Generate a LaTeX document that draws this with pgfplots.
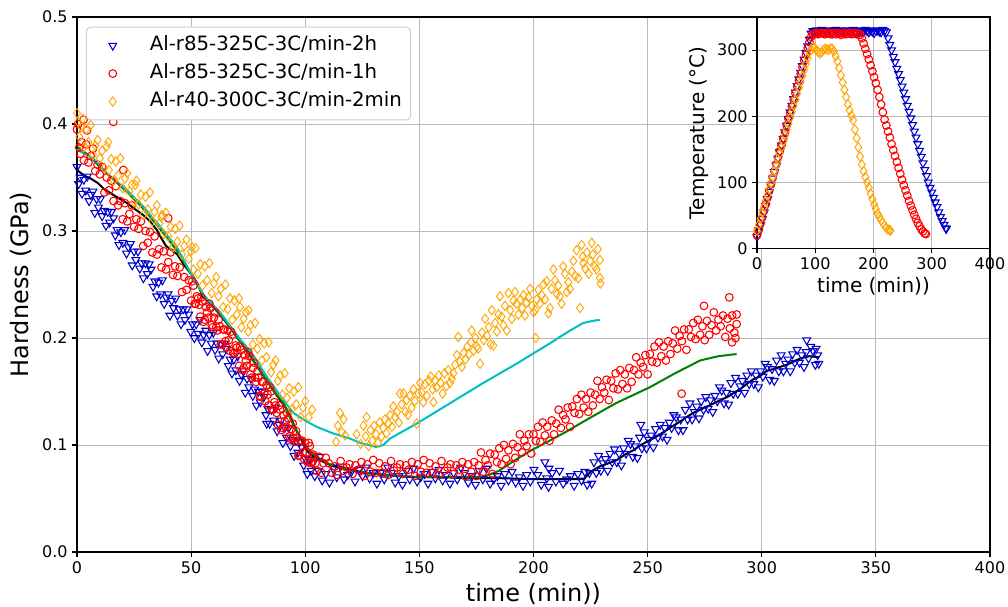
\documentclass[border=0pt]{standalone}
\usepackage{pgfplots}
\pgfplotsset{compat=1.18}
\usepackage{fontspec}
\setmainfont{DejaVu Sans}
\definecolor{mblue}{RGB}{0,0,205}
\definecolor{morange}{RGB}{255,165,0}
\definecolor{mcyan}{RGB}{0,191,191}
\definecolor{mgreen}{RGB}{0,128,0}
\pgfplotsset{
  mpl/.style={
    scale only axis,
    axis line style={line width=0.8pt},
    grid=major,
    major grid style={draw=gray!55, line width=0.7pt},
    tick align=outside,
    tick pos=left,
    major tick length=3.5pt,
    tick style={line width=0.8pt, black},
    tick label style={font=\fontsize{12}{14}\selectfont},
    /pgf/number format/assume math mode=true,
  },
  bluem/.style={only marks, mark=triangle, mark size=3.4pt, mblue, mark options={rotate=180, line width=0.8pt, mblue}},
  redm/.style={only marks, mark=o, mark size=2.9pt, red, mark options={line width=0.8pt, red}},
  orangem/.style={only marks, mark=diamond, mark size=3.5pt, morange, mark options={line width=0.7pt, morange}},
}
\begin{document}
\begin{tikzpicture}
\useasboundingbox (-57.75pt,-41.25pt) rectangle (698.25pt,414pt);
\begin{axis}[mpl,
  at={(0pt,0pt)}, anchor=south west,
  width=684.75pt, height=401.25pt,
  xmin=0, xmax=400, ymin=0, ymax=0.5,
  xtick={0,50,100,150,200,250,300,350,400},
  ytick={0,0.1,0.2,0.3,0.4,0.5},
  yticklabel style={/pgf/number format/.cd, fixed, fixed zerofill, precision=1},
  xlabel={time (min))}, ylabel={Hardness (GPa)},
  xlabel style={font=\fontsize{18}{21}\selectfont, at={(axis description cs:0.5,-0.0785)}, anchor=center},
  ylabel style={font=\fontsize{18}{21}\selectfont, at={(axis description cs:-0.0613,0.5)}, anchor=center},
  legend style={at={(axis description cs:0,1)}, anchor=north west, xshift=6.75pt, yshift=-7.3pt,
    draw=gray!40, line width=0.75pt, rounded corners=3pt, fill=white,
    inner xsep=5.5pt, inner ysep=5.75pt, row sep=5pt, column sep=0pt,
    font=\fontsize{14.8}{17}\selectfont,
    nodes={inner sep=1pt, text height=11pt, text depth=3pt},
    cells={anchor=west}},
  legend image code/.code={\path[draw=none,fill=none] (0pt,-3pt) rectangle (41pt,3pt); \draw[sharp corners,#1] plot coordinates {(14.2pt,0pt)};},
]
% blue: Al-r85-325C-3C/min-2h
\addplot[bluem] table[row sep=\\] {t h\\
0 0.360\\ 0.7 0.344\\ 1.4 0.350\\ 2.2 0.335\\ 3.0 0.348\\ 3.8 0.338\\ 4.5 0.351\\ 5.3 0.328\\ 6.1 0.334\\ 7.0 0.337\\
7.8 0.317\\ 8.6 0.330\\ 9.4 0.322\\ 10.2 0.330\\ 11.0 0.314\\ 11.9 0.319\\ 12.7 0.305\\ 13.5 0.318\\ 14.3 0.308\\ 15.1 0.318\\
16.0 0.312\\ 16.8 0.296\\ 17.6 0.301\\ 18.4 0.287\\ 19.2 0.299\\ 20.1 0.289\\ 20.9 0.301\\ 21.7 0.279\\ 22.5 0.285\\ 23.4 0.288\\
24.2 0.268\\ 25.0 0.281\\ 25.8 0.273\\ 26.7 0.281\\ 27.5 0.265\\ 28.3 0.270\\ 29.1 0.256\\ 30.0 0.270\\ 30.8 0.260\\ 31.6 0.269\\
32.4 0.264\\ 33.3 0.248\\ 34.1 0.253\\ 34.9 0.239\\ 35.7 0.252\\ 36.6 0.241\\ 37.4 0.254\\ 38.2 0.232\\ 39.0 0.238\\ 39.9 0.241\\
40.7 0.221\\ 41.5 0.235\\ 42.3 0.228\\ 43.2 0.237\\ 44.0 0.221\\ 44.8 0.227\\ 45.6 0.213\\ 46.5 0.227\\ 47.3 0.217\\ 48.1 0.227\\
48.9 0.222\\ 49.8 0.206\\ 50.6 0.213\\ 51.4 0.200\\ 52.2 0.213\\ 53.1 0.204\\ 53.9 0.217\\ 54.7 0.196\\ 55.5 0.203\\ 56.4 0.207\\
57.2 0.188\\ 58.0 0.203\\ 58.8 0.195\\ 59.7 0.205\\ 60.5 0.189\\ 61.3 0.195\\ 62.1 0.181\\ 63.0 0.195\\ 63.8 0.185\\ 64.6 0.195\\
65.4 0.190\\ 66.3 0.174\\ 67.1 0.180\\ 67.9 0.167\\ 68.7 0.180\\ 69.6 0.170\\ 70.4 0.183\\ 71.2 0.160\\ 72.0 0.166\\ 72.9 0.169\\
73.7 0.149\\ 74.5 0.162\\ 75.3 0.154\\ 76.2 0.162\\ 77.0 0.146\\ 77.8 0.152\\ 78.6 0.137\\ 79.5 0.150\\ 80.3 0.140\\ 81.1 0.150\\
81.9 0.145\\ 82.8 0.128\\ 83.6 0.134\\ 84.4 0.120\\ 85.2 0.133\\ 86.1 0.123\\ 86.9 0.135\\ 87.7 0.113\\ 88.5 0.119\\ 89.4 0.123\\
90.2 0.102\\ 91.0 0.116\\ 91.8 0.107\\ 92.7 0.116\\ 93.5 0.099\\ 94.3 0.105\\ 95.1 0.090\\ 96.0 0.104\\ 96.8 0.093\\ 97.6 0.103\\
98.4 0.098\\ 99.3 0.081\\ 100.1 0.087\\ 100.9 0.073\\ 101.7 0.086\\ 102.6 0.076\\ 103.4 0.083\\ 104.2 0.071\\ 83.1 0.120\\
105.8 0.076\\ 106.5 0.089\\ 107.4 0.067\\ 109.0 0.073\\ 110.6 0.065\\ 112.2 0.078\\ 113.8 0.070\\ 115.4 0.080\\ 117.0 0.068\\ 118.6 0.072\\
120.2 0.075\\ 121.8 0.066\\ 123.4 0.077\\ 125.0 0.071\\ 126.6 0.079\\ 128.2 0.069\\ 129.8 0.074\\ 131.4 0.064\\ 133.0 0.074\\ 134.6 0.068\\
136.2 0.079\\ 137.8 0.074\\ 139.4 0.065\\ 141.0 0.071\\ 142.6 0.063\\ 144.2 0.076\\ 145.8 0.068\\ 147.4 0.078\\ 149.0 0.066\\ 150.6 0.070\\
152.2 0.073\\ 153.8 0.064\\ 155.4 0.075\\ 157.0 0.069\\ 158.6 0.077\\ 160.2 0.067\\ 161.8 0.072\\ 163.4 0.064\\ 165.0 0.074\\ 166.6 0.068\\
168.2 0.079\\ 169.8 0.074\\ 171.4 0.065\\ 173.0 0.071\\ 174.6 0.063\\ 176.2 0.076\\ 177.8 0.068\\ 179.4 0.078\\ 181.0 0.064\\ 182.6 0.068\\
184.2 0.071\\ 185.8 0.062\\ 187.4 0.073\\ 189.0 0.067\\ 190.6 0.075\\ 192.2 0.065\\ 193.8 0.070\\ 195.4 0.062\\ 197.0 0.072\\ 198.6 0.066\\
200.2 0.077\\ 201.8 0.072\\ 203.4 0.063\\ 205.0 0.084\\ 205.8 0.069\\ 206.8 0.078\\ 206.6 0.061\\ 208.2 0.074\\ 209.8 0.066\\ 211.4 0.076\\
213.0 0.064\\ 214.6 0.068\\ 216.2 0.071\\ 217.8 0.062\\ 219.4 0.073\\ 221.0 0.067\\
222.5 0.075\\ 223.5 0.063\\ 224.5 0.074\\ 225.5 0.064\\ 226.5 0.084\\ 227.5 0.074\\ 228.5 0.090\\ 229.5 0.076\\ 230.5 0.083\\ 231.5 0.087\\
232.5 0.076\\ 233.5 0.092\\ 234.5 0.084\\ 235.5 0.096\\ 236.5 0.084\\ 237.5 0.092\\ 238.5 0.081\\ 239.5 0.097\\ 240.5 0.092\\ 241.5 0.104\\
242.5 0.101\\ 243.5 0.089\\ 244.5 0.099\\ 245.5 0.088\\ 246.5 0.107\\ 247.5 0.097\\ 248.5 0.112\\ 249.5 0.097\\ 250.5 0.105\\ 251.5 0.109\\
252.5 0.098\\ 253.5 0.115\\ 254.5 0.107\\ 255.5 0.119\\ 256.5 0.108\\ 257.5 0.116\\ 258.5 0.105\\ 259.5 0.121\\ 260.5 0.116\\ 261.5 0.128\\
262.5 0.126\\ 263.5 0.114\\ 264.5 0.124\\ 265.5 0.114\\ 266.5 0.133\\ 267.5 0.124\\ 268.5 0.139\\ 269.5 0.124\\ 270.5 0.131\\ 271.5 0.136\\
272.5 0.125\\ 273.5 0.141\\ 274.5 0.133\\ 275.5 0.145\\ 276.5 0.134\\ 277.5 0.142\\ 278.5 0.131\\ 279.5 0.146\\ 280.5 0.141\\ 281.5 0.154\\
282.5 0.151\\ 283.5 0.139\\ 284.5 0.149\\ 285.5 0.138\\ 286.5 0.158\\ 287.5 0.148\\ 288.5 0.163\\ 289.5 0.148\\ 290.5 0.155\\ 291.5 0.160\\
292.5 0.149\\ 293.5 0.165\\ 294.5 0.157\\ 295.5 0.169\\ 296.5 0.157\\ 297.5 0.165\\ 298.5 0.154\\ 299.5 0.169\\ 300.5 0.164\\ 301.5 0.176\\
302.5 0.173\\ 303.5 0.161\\ 304.5 0.171\\ 305.5 0.160\\ 306.5 0.179\\ 307.5 0.169\\ 308.5 0.184\\ 309.5 0.169\\ 310.5 0.176\\ 311.5 0.180\\
312.5 0.169\\ 313.5 0.185\\ 314.5 0.177\\ 315.5 0.189\\ 316.5 0.177\\ 317.5 0.184\\ 318.5 0.173\\ 319.5 0.187\\ 320.5 0.181\\ 321.5 0.192\\
322.5 0.188\\ 323.5 0.175\\ 324.5 0.184\\ 247.0 0.119\\ 319.7 0.198\\ 325.0 0.176\\ 323.8 0.190\\
};
\addlegendentry{Al-r85-325C-3C/min-2h}
% red: Al-r85-325C-3C/min-1h
\addplot[redm] table[row sep=\\] {t h\\
0 0.395\\ 1 0.378\\ 2 0.383\\ 3 0.366\\ 4 0.381\\ 5 0.364\\ 6 0.370\\ 7 0.377\\ 8 0.356\\ 9 0.362\\
10 0.353\\ 11 0.360\\ 12 0.336\\ 13 0.350\\ 14 0.338\\ 15 0.347\\ 16 0.328\\ 17 0.342\\ 18 0.324\\ 19 0.328\\
20 0.311\\ 21 0.326\\ 22 0.309\\ 23 0.316\\ 24 0.324\\ 25 0.304\\ 26 0.311\\ 27 0.302\\ 28 0.309\\ 29 0.286\\
30 0.300\\ 31 0.289\\ 32 0.299\\ 33 0.280\\ 34 0.295\\ 35 0.278\\ 36 0.283\\ 37 0.266\\ 38 0.281\\ 39 0.264\\
40 0.271\\ 41 0.280\\ 42 0.259\\ 43 0.267\\ 44 0.258\\ 45 0.266\\ 46 0.243\\ 47 0.257\\ 48 0.245\\ 49 0.254\\
50 0.235\\ 51 0.249\\ 52 0.232\\ 53 0.237\\ 54 0.220\\ 55 0.234\\ 56 0.217\\ 57 0.224\\ 58 0.232\\ 59 0.212\\
60 0.219\\ 61 0.210\\ 62 0.217\\ 63 0.194\\ 64 0.208\\ 65 0.197\\ 66 0.207\\ 67 0.188\\ 68 0.203\\ 69 0.186\\
70 0.191\\ 71 0.174\\ 72 0.189\\ 73 0.172\\ 74 0.179\\ 75 0.187\\ 76 0.166\\ 77 0.172\\ 78 0.163\\ 79 0.169\\
80 0.146\\ 81 0.159\\ 82 0.148\\ 83 0.156\\ 84 0.137\\ 85 0.150\\ 86 0.133\\ 87 0.137\\ 88 0.119\\ 89 0.133\\
90 0.116\\ 91 0.122\\ 92 0.130\\ 93 0.108\\ 94 0.115\\ 95 0.106\\ 96 0.113\\ 97 0.090\\ 98 0.104\\ 99 0.093\\
100 0.102\\ 101 0.084\\ 102 0.099\\ 103 0.084\\ 104 0.089\\ 105 0.076\\ 106 0.089\\ 107 0.074\\ 108 0.083\\ 109 0.088\\
50.5 0.253\\ 51.5 0.232\\ 52.5 0.239\\ 53.5 0.231\\ 54.5 0.238\\ 55.5 0.215\\ 56.5 0.229\\ 57.5 0.219\\ 58.5 0.228\\ 59.5 0.210\\
60.5 0.224\\ 61.5 0.207\\ 62.5 0.211\\ 63.5 0.194\\ 64.5 0.208\\ 65.5 0.191\\ 66.5 0.198\\ 67.5 0.206\\ 68.5 0.186\\ 69.5 0.193\\
70.5 0.185\\ 71.5 0.192\\ 72.5 0.170\\ 73.5 0.184\\ 74.5 0.174\\ 75.5 0.183\\ 76.5 0.163\\ 77.5 0.177\\ 78.5 0.159\\ 79.5 0.163\\
80.5 0.145\\ 81.5 0.159\\ 82.5 0.141\\ 83.5 0.147\\ 84.5 0.154\\ 85.5 0.133\\ 86.5 0.140\\ 87.5 0.130\\ 88.5 0.137\\ 89.5 0.114\\
90.5 0.128\\ 91.5 0.117\\ 92.5 0.125\\ 93.5 0.106\\ 94.5 0.120\\ 95.5 0.103\\ 96.5 0.107\\ 97.5 0.090\\ 98.5 0.104\\ 99.5 0.087\\
100.5 0.093\\ 101.5 0.102\\ 102.5 0.083\\ 103.5 0.091\\ 104.5 0.083\\
0.5 0.400\\ 1.5 0.372\\ 2.9 0.404\\ 4.4 0.394\\ 15.9 0.402\\ 20.3 0.357\\ 40.0 0.312\\
110.3 0.083\\ 111.6 0.074\\ 112.9 0.080\\ 114.2 0.072\\ 115.5 0.085\\ 116.8 0.076\\ 118.1 0.079\\ 119.4 0.082\\ 120.7 0.073\\ 122.0 0.081\\
123.3 0.077\\ 124.6 0.084\\ 125.9 0.071\\ 127.2 0.082\\ 128.5 0.075\\ 129.8 0.086\\ 131.1 0.074\\ 132.4 0.083\\ 133.7 0.074\\ 135.0 0.080\\
136.3 0.072\\ 137.6 0.085\\ 138.9 0.076\\ 140.2 0.079\\ 141.5 0.082\\ 142.8 0.073\\ 144.1 0.081\\ 145.4 0.077\\ 146.7 0.084\\ 148.0 0.071\\
149.3 0.082\\ 150.6 0.075\\ 151.9 0.086\\ 153.2 0.074\\ 154.5 0.083\\ 155.8 0.074\\ 157.1 0.080\\ 158.4 0.072\\ 159.7 0.085\\ 161.0 0.076\\
162.3 0.079\\ 163.6 0.082\\ 164.9 0.073\\ 166.2 0.081\\ 167.5 0.077\\ 168.8 0.084\\ 170.1 0.071\\ 171.4 0.082\\ 172.7 0.075\\
174 0.084\\ 175 0.071\\ 176 0.081\\ 177 0.093\\ 178 0.075\\ 179 0.086\\ 180 0.081\\ 181 0.092\\ 182 0.073\\ 183 0.091\\
184 0.084\\ 185 0.097\\ 186 0.082\\ 187 0.100\\ 188 0.087\\ 189 0.095\\ 190 0.082\\ 191 0.101\\ 192 0.088\\ 193 0.098\\
194 0.110\\ 195 0.093\\ 196 0.104\\ 197 0.099\\ 198 0.110\\ 199 0.092\\ 200 0.110\\ 201 0.104\\ 202 0.117\\ 203 0.103\\
204 0.121\\ 205 0.109\\ 206 0.117\\ 207 0.104\\ 208 0.123\\ 209 0.110\\ 210 0.120\\ 211 0.133\\ 212 0.116\\ 213 0.128\\
214 0.124\\ 215 0.135\\ 216 0.117\\ 217 0.136\\ 218 0.130\\ 219 0.143\\ 220 0.129\\ 221 0.147\\ 222 0.135\\ 223 0.143\\
224 0.131\\ 225 0.149\\ 226 0.137\\ 227 0.147\\ 228 0.160\\ 229 0.143\\ 230 0.154\\ 231 0.149\\ 232 0.161\\ 233 0.142\\
234 0.160\\ 235 0.153\\ 236 0.167\\ 237 0.152\\ 238 0.170\\ 239 0.157\\ 240 0.166\\ 241 0.153\\ 242 0.172\\ 243 0.159\\
244 0.170\\ 245 0.182\\ 246 0.166\\ 247 0.177\\ 248 0.173\\ 249 0.184\\ 250 0.166\\ 251 0.185\\ 252 0.178\\ 253 0.192\\
254 0.177\\ 255 0.196\\ 256 0.183\\ 257 0.192\\ 258 0.179\\ 259 0.197\\ 260 0.185\\ 261 0.195\\ 262 0.207\\ 263 0.190\\
264 0.202\\ 265 0.197\\ 266 0.208\\ 267 0.189\\ 268 0.208\\ 269 0.201\\ 270 0.214\\ 271 0.199\\ 272 0.217\\ 273 0.203\\
274 0.211\\ 275 0.198\\ 276 0.216\\ 277 0.203\\ 278 0.212\\ 279 0.224\\ 280 0.207\\ 281 0.217\\ 282 0.211\\ 283 0.221\\
284 0.201\\ 285 0.218\\ 286 0.209\\ 287 0.221\\ 288 0.205\\ 289 0.222\\
264.9 0.148\\ 285.8 0.238\\ 274.7 0.230\\ 288.5 0.200\\ 287.0 0.196\\ 289.0 0.213\\
};
\addlegendentry{Al-r85-325C-3C/min-1h}
% orange: Al-r40-300C-3C/min-2min
\addplot[orangem] table[row sep=\\] {t h\\
0 0.410\\ 0.5 0.402\\ 1 0.388\\ 2 0.397\\ 2.5 0.405\\ 3 0.378\\ 4 0.395\\ 5 0.383\\ 6 0.399\\ 7 0.371\\
8 0.380\\ 9 0.385\\ 10 0.368\\ 11 0.375\\ 12 0.359\\ 13 0.379\\ 13.7 0.383\\ 14 0.357\\ 15 0.367\\ 16 0.347\\
17 0.365\\ 18 0.352\\ 19 0.368\\ 20 0.340\\ 21 0.349\\ 22 0.354\\ 23 0.337\\ 24 0.343\\ 25 0.327\\ 25.5 0.343\\
26 0.347\\ 27 0.325\\ 28 0.334\\ 29 0.315\\ 30 0.332\\ 31 0.320\\ 32 0.336\\ 33 0.309\\ 34 0.318\\ 35 0.324\\
36 0.307\\ 37 0.313\\ 37.2 0.315\\ 38 0.297\\ 39 0.317\\ 40 0.295\\ 41 0.304\\ 42 0.285\\ 43 0.302\\ 44 0.290\\
45 0.305\\ 46 0.278\\ 47 0.286\\ 48 0.292\\ 49 0.274\\ 50 0.281\\ 50.4 0.285\\ 51 0.264\\ 52 0.284\\ 53 0.260\\
54 0.269\\ 55 0.249\\ 56 0.267\\ 57 0.254\\ 58 0.270\\ 59 0.242\\ 60 0.251\\ 61 0.257\\ 62 0.239\\ 63 0.246\\
64 0.229\\ 65 0.250\\ 66 0.227\\ 67 0.237\\ 68 0.217\\ 69 0.235\\ 70 0.222\\ 71 0.237\\ 71.4 0.229\\ 72 0.210\\
73 0.218\\ 74 0.224\\ 75 0.206\\ 75.2 0.226\\ 76 0.212\\ 77 0.194\\ 78 0.214\\ 79 0.190\\ 80 0.199\\ 81 0.179\\
82 0.195\\ 83 0.182\\ 84 0.196\\ 85 0.168\\ 86 0.175\\ 87 0.179\\ 88 0.160\\ 89 0.165\\ 90 0.147\\ 91 0.167\\
92 0.144\\ 93 0.153\\ 94 0.133\\ 95 0.150\\ 96 0.138\\ 97 0.154\\ 98 0.126\\ 99 0.135\\ 100 0.141\\ 101.5 0.126\\
103.0 0.133\\ 113.5 0.103\\ 114.3 0.118\\ 115.2 0.130\\ 116.0 0.112\\ 116.8 0.124\\ 117.5 0.109\\ 122.5 0.110\\ 124.2 0.101\\ 125.5 0.118\\
126.5 0.108\\ 126.9 0.126\\ 127.8 0.099\\ 128.6 0.114\\ 129.4 0.104\\ 130.2 0.118\\ 131.0 0.110\\ 131.8 0.102\\ 132.6 0.121\\ 133.4 0.108\\
134.2 0.116\\ 134.9 0.124\\ 135.6 0.111\\ 136.4 0.120\\ 137.2 0.128\\ 138.0 0.117\\ 138.6 0.136\\ 139.4 0.126\\ 140.2 0.131\\ 141.0 0.121\\
141.5 0.148\\ 142.2 0.138\\ 143.0 0.148\\ 143.8 0.131\\ 144.4 0.142\\ 145.0 0.128\\ 145.8 0.146\\ 146.6 0.135\\ 147.4 0.152\\ 148.0 0.141\\
148.8 0.120\\ 149.5 0.148\\ 150.3 0.158\\ 151.0 0.149\\ 151.7 0.140\\ 152.5 0.157\\ 153.3 0.146\\ 154.2 0.160\\ 155.0 0.164\\ 155.8 0.152\\
156.2 0.140\\ 157.0 0.160\\ 157.6 0.154\\ 158.5 0.165\\ 159.3 0.158\\ 160.2 0.148\\ 161.0 0.167\\ 161.8 0.155\\ 162.6 0.170\\ 163.4 0.158\\
164.2 0.162\\ 164.9 0.167\\ 165.6 0.175\\ 166.4 0.184\\ 167.0 0.201\\ 167.8 0.178\\ 168.6 0.173\\ 169.4 0.186\\ 170.2 0.180\\ 171.0 0.192\\
171.8 0.185\\ 172.6 0.196\\ 172.9 0.207\\ 173.7 0.188\\ 174.5 0.200\\ 175.2 0.192\\ 175.8 0.190\\ 176.6 0.176\\ 177.4 0.205\\ 178.2 0.198\\
178.8 0.218\\ 179.6 0.202\\ 180.4 0.210\\ 181.2 0.194\\ 181.7 0.226\\ 182.4 0.193\\ 183.2 0.214\\ 184.0 0.206\\ 184.6 0.222\\ 185.3 0.239\\
186.0 0.220\\ 186.8 0.212\\ 187.5 0.230\\ 188.3 0.207\\ 189.0 0.242\\ 189.8 0.226\\ 190.5 0.218\\ 191.2 0.235\\ 191.9 0.243\\ 192.6 0.232\\
193.4 0.222\\ 194.2 0.236\\ 195.0 0.228\\ 195.6 0.240\\ 196.3 0.221\\ 197.0 0.233\\ 197.8 0.238\\ 198.5 0.246\\ 199.3 0.230\\ 200.0 0.224\\
200.7 0.226\\ 201.0 0.200\\ 201.4 0.236\\ 202.1 0.245\\ 202.8 0.232\\ 203.6 0.240\\ 204.4 0.250\\ 205.1 0.236\\ 205.8 0.253\\ 206.5 0.223\\
207.2 0.228\\ 207.9 0.246\\ 208.7 0.264\\ 209.4 0.254\\ 210.2 0.241\\ 210.9 0.249\\ 211.6 0.239\\ 212.3 0.232\\ 213.0 0.267\\ 213.8 0.260\\
214.6 0.243\\ 215.3 0.252\\ 216.0 0.246\\ 216.8 0.262\\ 217.5 0.272\\ 218.2 0.258\\ 218.9 0.282\\ 219.6 0.256\\ 220.4 0.228\\ 221.1 0.287\\
221.5 0.276\\ 221.8 0.270\\ 222.6 0.265\\ 223.4 0.280\\ 224.2 0.260\\ 224.8 0.272\\ 225.5 0.289\\ 226.0 0.278\\ 226.9 0.267\\ 227.6 0.264\\
228.2 0.283\\ 229.1 0.273\\ 229.1 0.256\\ 229.3 0.251\\
};
\addlegendentry{Al-r40-300C-3C/min-2min}
% smoothed curves
\addplot[black, line width=1.5pt, forget plot] table[row sep=\\] {t h\\
0 0.357\\ 3 0.352\\ 6 0.349\\ 9 0.345\\ 12 0.339\\ 15 0.335\\ 18 0.331\\ 22 0.326\\ 25 0.321\\ 29 0.315\\
32 0.309\\ 35 0.301\\ 37 0.293\\ 39 0.286\\ 41 0.283\\ 44 0.278\\ 47 0.268\\ 51 0.257\\ 53 0.250\\ 55 0.239\\
58 0.233\\ 63 0.221\\ 67 0.210\\ 71 0.198\\ 74 0.190\\ 77 0.180\\ 80 0.170\\ 83 0.161\\ 86 0.151\\ 89 0.142\\
92 0.133\\ 94 0.124\\ 96 0.114\\ 98.5 0.104\\ 100.6 0.095\\ 103 0.090\\ 106.5 0.086\\ 110 0.082\\ 115 0.080\\ 120 0.077\\
124 0.075\\ 130 0.073\\ 140 0.071\\ 150 0.070\\ 160 0.070\\ 170 0.069\\ 185 0.069\\ 200 0.068\\ 210 0.068\\ 222 0.068\\
225 0.075\\ 229 0.080\\ 233 0.083\\ 236.5 0.086\\ 240 0.091\\ 243.7 0.095\\ 247 0.100\\ 249.6 0.103\\ 254 0.108\\ 258.4 0.114\\
262 0.119\\ 265 0.123\\ 267 0.126\\ 270 0.130\\ 273 0.133\\ 276 0.136\\ 279 0.139\\ 282 0.142\\ 285 0.145\\ 288 0.149\\
291 0.153\\ 294 0.158\\ 296 0.161\\ 299 0.164\\ 302 0.169\\ 305 0.171\\ 308 0.173\\ 311 0.175\\ 314 0.178\\ 317 0.181\\
321 0.183\\ 325 0.182\\
};
\addplot[mgreen, line width=1.5pt, forget plot] table[row sep=\\] {t h\\
0 0.379\\ 5 0.371\\ 10 0.360\\ 15 0.350\\ 22 0.336\\ 29 0.321\\ 36 0.303\\ 44 0.281\\ 51 0.256\\ 56 0.238\\
63 0.222\\ 71 0.198\\ 80 0.170\\ 86 0.151\\ 90.4 0.140\\ 94 0.122\\ 97.7 0.108\\ 101 0.097\\ 105 0.089\\ 112.3 0.080\\
120 0.076\\ 126.9 0.074\\ 140 0.071\\ 148.8 0.070\\ 178 0.070\\ 185 0.076\\ 192 0.086\\ 199 0.095\\ 207 0.104\\ 214 0.112\\
222 0.122\\ 236 0.139\\ 251 0.154\\ 262 0.167\\ 273 0.179\\ 281 0.183\\ 289 0.185\\
};
\addplot[mcyan, line width=1.5pt, forget plot] table[row sep=\\] {t h\\
0 0.376\\ 7 0.368\\ 14.6 0.351\\ 22 0.338\\ 29 0.323\\ 36.5 0.304\\ 44 0.284\\ 51 0.256\\ 55.5 0.240\\ 62.7 0.224\\
71.4 0.199\\ 77.2 0.184\\ 83.1 0.164\\ 90.4 0.142\\ 94.8 0.130\\ 100.6 0.122\\ 105 0.117\\ 112 0.111\\ 119.6 0.106\\ 124 0.102\\
131.3 0.098\\ 134.2 0.100\\ 137.1 0.106\\ 148.8 0.120\\ 163.4 0.139\\ 178 0.158\\ 192.6 0.176\\ 207.2 0.195\\ 216 0.207\\ 221.8 0.214\\
226 0.216\\ 229 0.217\\
};
\end{axis}
% inset
\begin{axis}[mpl,
  at={(684.75pt,401.25pt)}, anchor=north east,
  width=174.75pt, height=173.7pt,
  xmin=0, xmax=400, ymin=0, ymax=350,
  xtick={0,100,200,300,400}, ytick={0,100,200,300},
  axis background/.style={fill=white},
  xlabel={time (min))}, ylabel={Temperature (°C)},
  xlabel style={font=\fontsize{15}{18}\selectfont, at={(axis description cs:0.5,-0.163)}, anchor=center},
  ylabel style={font=\fontsize{15}{18}\selectfont, at={(axis description cs:-0.2506,0.5)}, anchor=center},
]
\addplot[bluem] table[row sep=\\] {t T\\
0 18\\ 3 28\\ 6 36\\ 9 45\\ 12 55\\ 15 65\\ 18 75\\ 21 86\\ 24 96\\ 27 106\\ 30 116\\ 33 126\\ 36 136\\ 39 146\\ 42 156\\
45 166\\ 48 176\\ 51 186\\ 54 196\\ 57 206\\ 60 216\\ 63 226\\ 66 236\\ 69 246\\ 72 256\\ 75 266\\ 78 276\\ 81 286\\ 84 296\\ 87 306\\
90 316\\ 93 325\\ 96 329\\ 99 328\\ 102 330\\ 105 327\\ 108 329\\ 111 331\\ 114 326\\ 117 329\\ 120 328\\ 123 330\\ 126 327\\ 129 325\\ 132 329\\
135 331\\ 138 328\\ 141 327\\ 144 330\\ 147 329\\ 150 326\\ 153 328\\ 156 330\\ 159 329\\ 162 327\\ 165 331\\ 168 328\\ 171 326\\ 174 329\\ 177 330\\
180 327\\ 183 328\\ 186 331\\ 189 329\\ 192 327\\ 195 330\\ 198 328\\ 201 326\\ 204 329\\ 207 330\\ 210 328\\ 213 327\\ 216 331\\ 219 329\\ 222 327\\
225 318\\ 228 308\\ 231 300\\ 234 290\\ 237 282\\ 240 272\\ 243 264\\ 246 255\\ 249 245\\ 252 236\\ 255 226\\ 258 216\\ 261 207\\ 264 197\\ 267 187\\
270 177\\ 273 168\\ 276 158\\ 279 148\\ 282 139\\ 285 129\\ 288 119\\ 291 110\\ 294 100\\ 297 92\\ 300 85\\ 303 77\\ 306 70\\ 309 63\\ 312 55\\
315 48\\ 318 42\\ 321 36\\ 324 31\\ 325 30\\
};
\addplot[redm] table[row sep=\\] {t T\\
0 20\\ 3 28\\ 6 38\\ 9 47\\ 12 57\\ 15 67\\ 18 77\\ 21 87\\ 24 97\\ 27 107\\ 30 117\\ 33 127\\ 36 137\\ 39 147\\ 42 156\\
45 166\\ 48 176\\ 51 186\\ 54 196\\ 57 205\\ 60 215\\ 63 225\\ 66 235\\ 69 245\\ 72 254\\ 75 264\\ 78 274\\ 81 284\\ 84 293\\ 87 303\\
90 312\\ 93 320\\ 96 324\\ 99 325\\ 102 326\\ 105 324\\ 108 325\\ 111 326\\ 114 325\\ 117 324\\ 120 326\\ 123 325\\ 126 324\\ 129 326\\ 132 325\\
135 324\\ 138 326\\ 141 325\\ 144 323\\ 147 325\\ 150 326\\ 153 324\\ 156 325\\ 159 326\\ 162 324\\ 165 325\\ 168 326\\ 171 324\\ 174 325\\ 177 323\\
180 318\\ 183 310\\ 186 302\\ 189 294\\ 192 286\\ 195 277\\ 198 268\\ 201 259\\ 204 250\\ 207 240\\ 210 229\\ 213 218\\ 216 206\\ 219 195\\ 222 186\\
225 177\\ 228 168\\ 231 158\\ 234 149\\ 237 140\\ 240 131\\ 243 122\\ 246 113\\ 249 104\\ 252 96\\ 255 88\\ 258 80\\ 261 72\\ 264 65\\ 267 58\\
270 51\\ 273 45\\ 276 39\\ 279 34\\ 282 29\\ 285 26\\ 288 23\\ 290 22\\
};
\addplot[orangem] table[row sep=\\] {t T\\
0 27\\ 3 36\\ 6 45\\ 9 54\\ 12 63\\ 15 72\\ 18 81\\ 21 90\\ 24 99\\ 27 108\\ 30 117\\ 33 126\\ 36 135\\ 39 144\\ 42 153\\
45 162\\ 48 171\\ 51 180\\ 54 189\\ 57 198\\ 60 207\\ 63 216\\ 66 225\\ 69 234\\ 72 243\\ 75 252\\ 78 261\\ 81 270\\ 84 279\\ 87 288\\
90 297\\ 93 301\\ 96 304\\ 99 303\\ 102 300\\ 105 297\\ 108 295\\ 111 297\\ 114 300\\ 117 302\\ 120 301\\ 123 300\\ 126 303\\ 129 302\\ 132 298\\
135 291\\ 138 283\\ 141 273\\ 144 262\\ 147 251\\ 150 240\\ 153 229\\ 156 218\\ 159 209\\ 162 201\\ 165 194\\ 168 180\\ 171 167\\ 174 153\\ 177 139\\
180 127\\ 183 117\\ 186 108\\ 189 100\\ 192 92\\ 195 83\\ 198 75\\ 201 67\\ 204 60\\ 207 53\\ 210 48\\ 213 43\\ 216 39\\ 219 35\\ 222 31\\
225 29\\ 228 28\\ 229 27\\
};
\end{axis}
\end{tikzpicture}
\end{document}
